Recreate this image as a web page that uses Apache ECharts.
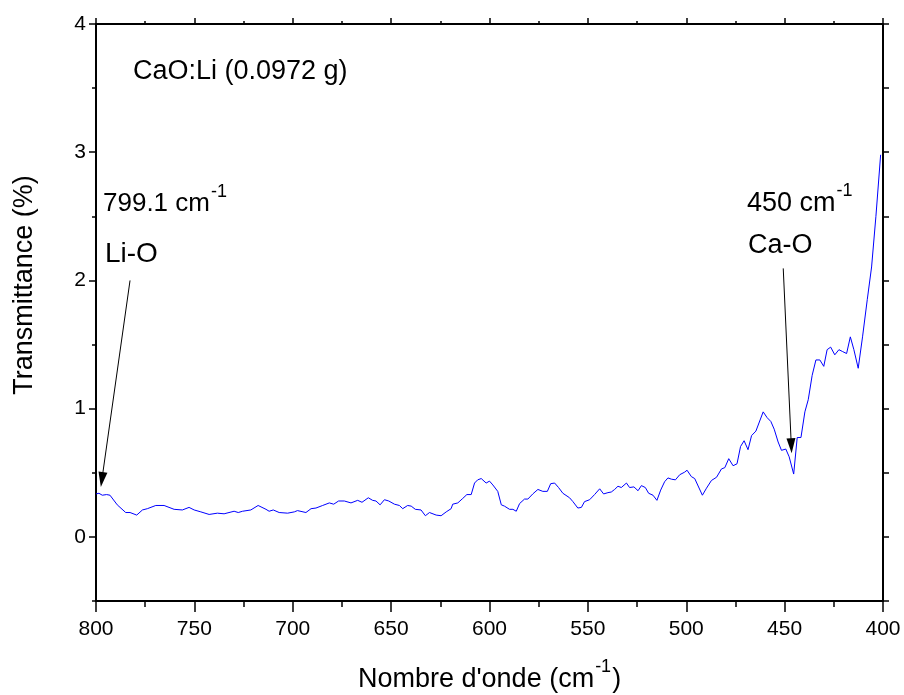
<!DOCTYPE html>
<html>
<head>
<meta charset="utf-8">
<script src="https://cdn.jsdelivr.net/npm/echarts@6/dist/echarts.min.js"></script>
<style>
html, body { margin: 0; padding: 0; background: #fff; }
#chart { width: 904px; height: 695px; }
</style>
</head>
<body>
<div id="chart"></div>
<script>
// spectre IR CaO:Li
var wavenumber = [
    800, 798.5, 796.8, 794.6, 792.9, 789.2, 784.9, 782.7, 779.3, 776.4,
    773.9, 769.6, 765.4, 760.3, 756.1, 752.7, 750.1, 746.7, 742.5, 738.3,
    734.9, 729.8, 727.7, 725.5, 721.3, 717.6, 713.6, 712.0, 709.9, 706.9,
    702.6, 699.2, 697.6, 693.3, 690.7, 688.2, 684.8, 681.4, 679.2, 676.7,
    673.8, 670.4, 667.0, 664.8, 661.6, 659.4, 657.7, 655.6, 653.4, 651.2,
    648.3, 645.8, 644.1, 641.6, 639.8, 637.7, 634.8, 632.6, 630.5, 627.1,
    624.6, 622.0, 619.5, 618.7, 616.1, 613.6, 611.5, 609.3, 607.6, 606.0,
    604.2, 601.7, 600.0, 598.3, 595.8, 594.0, 592.4, 589.8, 588.1, 586.4,
    584.7, 582.2, 580.5, 578.0, 575.4, 572.9, 570.6, 568.9, 566.9, 564.9,
    562.7, 559.3, 557.6, 555.1, 553.3, 551.7, 549.1, 546.6, 544.0, 542.0,
    539.8, 538.1, 536.4, 534.7, 533.0, 530.4, 528.8, 526.6, 524.5, 522.8,
    520.8, 519.1, 516.9, 514.9, 513.0, 511.0, 509.3, 507.5, 505.5, 503.3,
    500.8, 499.6, 497.4, 495.7, 491.8, 489.7, 487.2, 484.6, 482.1, 480.4,
    478.4, 476.2, 474.2, 472.4, 470.6, 468.6, 466.8, 464.6, 460.9, 458.9,
    457.0, 455.3, 453.3, 451.6, 449.4, 447.7, 445.4, 443.6, 441.7, 439.7,
    438.0, 436.0, 434.1, 432.1, 430.1, 428.4, 426.6, 424.5, 422.4, 420.5,
    418.5, 416.6, 414.8, 412.6, 410.4, 408.0, 405.8, 403.6, 401.2
];
var transmittance = [
    0.335, 0.34, 0.325, 0.33, 0.325, 0.25, 0.19, 0.19, 0.17, 0.21,
    0.22, 0.245, 0.245, 0.215, 0.21, 0.23, 0.21, 0.195, 0.175, 0.185,
    0.18, 0.2, 0.19, 0.2, 0.21, 0.245, 0.215, 0.2, 0.21, 0.19,
    0.185, 0.195, 0.205, 0.19, 0.22, 0.225, 0.245, 0.265, 0.255, 0.28,
    0.28, 0.265, 0.285, 0.27, 0.305, 0.285, 0.28, 0.25, 0.29, 0.28,
    0.255, 0.245, 0.22, 0.245, 0.24, 0.215, 0.21, 0.165, 0.19, 0.17,
    0.165, 0.195, 0.22, 0.255, 0.265, 0.3, 0.33, 0.33, 0.42, 0.445,
    0.455, 0.42, 0.435, 0.405, 0.355, 0.25, 0.24, 0.215, 0.215, 0.2,
    0.26, 0.295, 0.295, 0.335, 0.37, 0.355, 0.355, 0.415, 0.42, 0.385,
    0.34, 0.305, 0.275, 0.225, 0.23, 0.275, 0.29, 0.33, 0.375, 0.335,
    0.345, 0.35, 0.37, 0.395, 0.385, 0.42, 0.385, 0.39, 0.36, 0.4,
    0.385, 0.34, 0.325, 0.285, 0.365, 0.43, 0.46, 0.45, 0.445, 0.485,
    0.505, 0.52, 0.47, 0.455, 0.325, 0.38, 0.44, 0.465, 0.53, 0.54,
    0.61, 0.555, 0.57, 0.705, 0.75, 0.68, 0.79, 0.825, 0.975, 0.93,
    0.9, 0.84, 0.74, 0.675, 0.685, 0.625, 0.49, 0.775, 0.775, 0.975,
    1.07, 1.26, 1.38, 1.38, 1.33, 1.46, 1.48, 1.42, 1.46, 1.445,
    1.43, 1.56, 1.46, 1.315, 1.56, 1.85, 2.105, 2.5, 2.98
];

// graduations
var yMajorTicks = [0, 1, 2, 3, 4];
var yMinorTicks = [-0.5, 0.5, 1.5, 2.5, 3.5];

// fleches (debut, pointe)
var liArrow = [[782.7, 2.0], [797.0, 0.447]];
var caArrow = [[450.7, 2.094], [446.6, 0.711]];

var FONT = '"Liberation Sans", Arial, sans-serif';
var ctx = document.createElement('canvas').getContext('2d');

function textWidth(t, size) {
    ctx.font = size + 'px ' + FONT;
    return ctx.measureText(t).width;
}

function txt(text, x, y, size) {
    return {
        type: 'text', x: x, y: y, silent: true,
        style: { text: text, font: size + 'px ' + FONT, fill: '#000', verticalAlign: 'middle' }
    };
}

// texte + exposant (+ suite eventuelle)
function supText(main, sup, after, x, y, size, centered) {
    var supSize = Math.round(size * 0.68);
    var wa = textWidth(main, size);
    var ws = sup ? textWidth(sup, supSize) + 1 : 0;
    var wb = after ? textWidth(after, size) : 0;
    var x0 = centered ? x - (wa + ws + wb) / 2 : x;
    var items = [txt(main, x0, y, size)];
    if (sup) items.push(txt(sup, x0 + wa + 1, y - size * 0.47, supSize));
    if (after) items.push(txt(after, x0 + wa + ws + 1, y, size));
    return items;
}

var seriesData = [];
for (var i = 0; i < wavenumber.length; i++) {
    seriesData.push([wavenumber[i], transmittance[i]]);
}

var chartDom = document.getElementById('chart');
var myChart = echarts.init(chartDom);

var axisLine = { show: true, onZero: false, lineStyle: { color: '#000', width: 2 } };

var graphics = []
    .concat(supText('CaO:Li (0.0972 g)', null, null, 133, 72, 27))
    .concat(supText('799.1 cm', '-1', null, 103, 204, 26))
    .concat(supText('Li-O', null, null, 105, 254, 28))
    .concat(supText('450 cm', '-1', null, 747, 204, 27))
    .concat(supText('Ca-O', null, null, 748, 246, 27))
    .concat(supText("Nombre d'onde (cm", '-1', ')', 489, 680, 27, true));

graphics.push({
    type: 'text', x: 25, y: 285, rotation: Math.PI / 2, silent: true,
    style: { text: 'Transmittance (%)', font: '27px ' + FONT, fill: '#000', align: 'center', verticalAlign: 'middle' }
});

var option = {
    animation: false,
    backgroundColor: '#fff',
    grid: { left: 96, right: 21, top: 24, bottom: 94, containLabel: false },
    xAxis: [
        {
            type: 'value', position: 'bottom', inverse: true,
            min: 400, max: 800, interval: 50,
            axisLine: axisLine,
            axisTick: { show: true, length: 11, lineStyle: { color: '#000', width: 1.5 } },
            minorTick: { show: true, splitNumber: 2, length: 6, lineStyle: { color: '#000', width: 1.5 } },
            axisLabel: { color: '#000', fontSize: 21, fontFamily: FONT, margin: 18 },
            splitLine: { show: false }
        },
        {
            type: 'value', position: 'top', inverse: true,
            min: 400, max: 800, interval: 50,
            axisLine: axisLine,
            axisTick: { show: true, length: 6, lineStyle: { color: '#000', width: 1.5 } },
            minorTick: { show: true, splitNumber: 2, length: 3, lineStyle: { color: '#000', width: 1.5 } },
            axisLabel: { show: false },
            splitLine: { show: false }
        }
    ],
    yAxis: [
        {
            type: 'value', position: 'left', min: -0.5, max: 4,
            axisLine: axisLine,
            axisTick: { show: true, length: 7, customValues: yMajorTicks, lineStyle: { color: '#000', width: 1.5 } },
            axisLabel: { color: '#000', fontSize: 21, fontFamily: FONT, margin: 10, customValues: yMajorTicks },
            splitLine: { show: false }
        },
        {
            type: 'value', position: 'left', min: -0.5, max: 4,
            axisLine: { show: false },
            axisTick: { show: true, length: 4, customValues: yMinorTicks, lineStyle: { color: '#000', width: 1.5 } },
            axisLabel: { show: false },
            splitLine: { show: false }
        },
        {
            type: 'value', position: 'right', min: -0.5, max: 4,
            axisLine: axisLine,
            axisTick: { show: true, length: 6, customValues: yMajorTicks.concat(yMinorTicks), lineStyle: { color: '#000', width: 1.5 } },
            axisLabel: { show: false },
            splitLine: { show: false }
        }
    ],
    series: [
        {
            type: 'line',
            data: seriesData,
            xAxisIndex: 0,
            yAxisIndex: 0,
            showSymbol: false,
            symbol: 'none',
            lineStyle: { color: '#0000ff', width: 1 },
            markLine: {
                silent: true,
                animation: false,
                symbol: ['none', 'triangle'],
                lineStyle: { color: '#000', width: 1, type: 'solid' },
                label: { show: false },
                data: [
                    [{ coord: liArrow[0] }, { coord: liArrow[1], symbolSize: [9, 15] }],
                    [{ coord: caArrow[0] }, { coord: caArrow[1], symbolSize: [9, 15] }]
                ]
            }
        }
    ],
    graphic: graphics
};

option && myChart.setOption(option);
</script>
</body>
</html>
